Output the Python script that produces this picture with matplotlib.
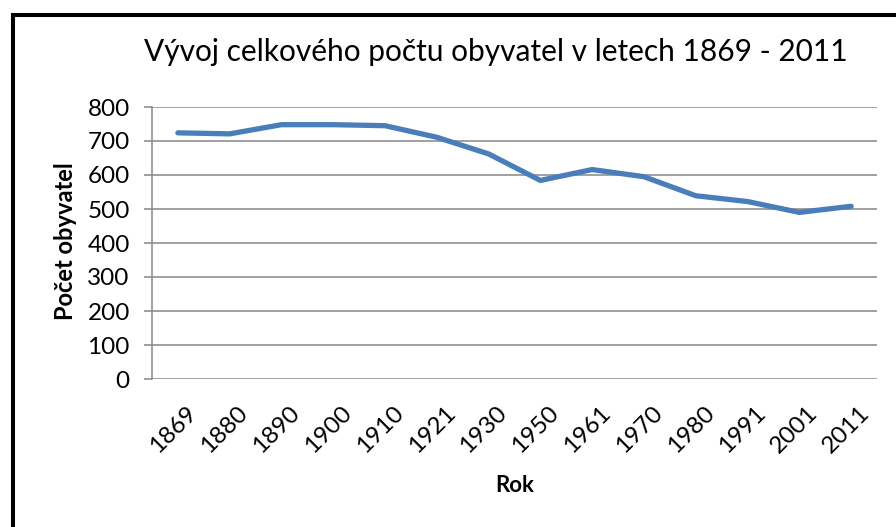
import matplotlib
matplotlib.use("Agg")
import matplotlib.pyplot as plt
import matplotlib.patches as patches
import matplotlib.transforms as mtransforms

# --- DATA ---
years = ["1869", "1880", "1890", "1900", "1910", "1921", "1930",
         "1950", "1961", "1970", "1980", "1991", "2001", "2011"]
population = [724, 721, 748, 748, 745, 711, 662,
              584, 616, 595, 539, 522, 490, 508]
y_ticks = [0, 100, 200, 300, 400, 500, 600, 700, 800]

TITLE = "Vývoj celkového počtu obyvatel v letech 1869 - 2011"
X_LABEL = "Rok"
Y_LABEL = "Počet obyvatel"

LINE_COLOR = "#4A7EBB"
GRID_COLOR = "#868686"

plt.rcParams['font.family'] = ['Lato', 'DejaVu Sans']

W, H = 896, 527
fig = plt.figure(figsize=(W / 100, H / 100), dpi=100)
fig.patch.set_facecolor('white')

# plot area in pixels: x 152..877, y 107..379
ax = fig.add_axes([152 / W, 1 - 379 / H, (877 - 152) / W, (379 - 107) / H])

x = list(range(len(years)))
ax.plot(x, population, color=LINE_COLOR, lw=3.8, solid_capstyle='round',
        solid_joinstyle='round', zorder=3)

ax.set_xlim(-0.5, len(years) - 0.5)
ax.set_ylim(0, 800)
ax.set_yticks(y_ticks)
ax.set_yticklabels([str(v) for v in y_ticks], fontsize=17.5)
ax.yaxis.grid(True, color=GRID_COLOR, lw=1.1)
ax.set_axisbelow(True)

for s in ['top', 'right', 'bottom']:
    ax.spines[s].set_visible(False)
ax.spines['left'].set_color(GRID_COLOR)
ax.spines['left'].set_linewidth(1.1)
ax.tick_params(axis='y', length=6, width=1.1, color=GRID_COLOR, pad=10)
ax.tick_params(axis='x', length=0, pad=6)

ax.set_xticks(x)
ax.set_xticklabels(years, rotation=45, ha='right', va='center',
                   rotation_mode='anchor', fontsize=17.5)
offset = mtransforms.ScaledTranslation(15 / 100, -22 / 100, fig.dpi_scale_trans)
for lab in ax.get_xticklabels():
    lab.set_transform(lab.get_transform() + offset)

# titles and labels
fig.text(496 / W, 1 - 52 / H, TITLE, ha='center', va='center', fontsize=21.5)
fig.text(515 / W, 1 - 486 / H, X_LABEL, ha='center', va='center',
         fontsize=16, weight='bold')
fig.text(65 / W, 1 - 241 / H, Y_LABEL, ha='center', va='center',
         fontsize=17, weight='bold', rotation=90)

# outer chart border (cropped on right and bottom)
fig.patches.append(patches.Rectangle((13 / W, -0.2), 1.2, 1.2 - 14.7 / H,
                                     transform=fig.transFigure, fill=False,
                                     edgecolor='black', lw=2.9))

fig.savefig("out.png", dpi=100)
